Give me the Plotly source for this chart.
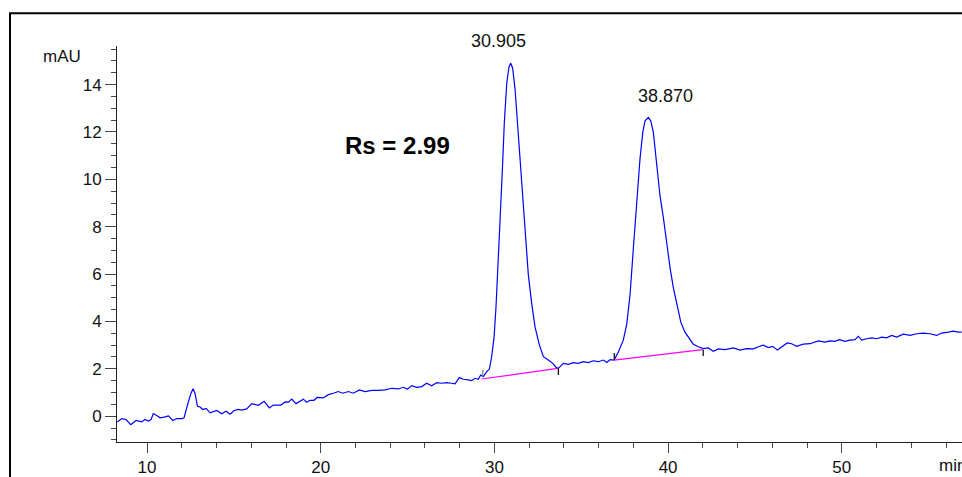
import plotly.graph_objects as go

# chromatogram trace (time in min, signal in mAU)
time_min = [8.29, 8.54, 8.79, 9.06, 9.37, 9.69, 9.88, 10.08, 10.23, 10.36, 10.56, 10.75, 10.98, 11.23,
            11.48, 11.71, 12.0, 12.13, 12.32, 12.52, 12.65, 12.76, 12.90, 13.05, 13.21, 13.40, 13.63,
            14.01, 14.30, 14.55, 14.78, 15.01, 15.26, 15.45, 15.74, 16.03, 16.41, 16.74, 17.04, 17.27,
            17.70, 17.95, 18.14, 18.33, 18.58, 18.81, 19.0, 19.19, 19.38, 19.61, 19.80,
            20.15, 20.44, 20.73, 21.01, 21.27, 21.59, 21.88, 22.22, 22.55, 22.94, 23.32, 23.70, 24.09,
            24.47, 24.76, 24.99, 25.24, 25.53, 25.82, 26.10, 26.39, 26.68, 26.97, 27.25, 27.54, 27.73,
            27.98, 28.21, 28.50, 28.69, 28.88, 29.07, 29.21, 29.36, 29.56, 29.71,
            29.84, 29.98, 30.09, 30.21, 30.32, 30.46, 30.57, 30.71, 30.84, 30.94, 31.05, 31.19, 31.32,
            31.47, 31.63, 31.78, 31.95, 32.15, 32.34, 32.59, 32.82, 33.10, 33.36, 33.55, 33.68,
            33.97, 34.26, 34.54, 34.83, 35.12, 35.41, 35.69, 35.98, 36.27, 36.47, 36.66, 36.89,
            37.14, 37.42, 37.62, 37.81, 38.00, 38.19, 38.38, 38.54, 38.67, 38.86, 39.00, 39.15, 39.34,
            39.53, 39.73, 39.92, 40.11, 40.30, 40.53, 40.73, 40.97, 41.22, 41.45, 41.74, 42.03, 42.31,
            42.60, 42.89, 43.28, 43.76, 44.14, 44.53, 44.91, 45.20, 45.48, 45.77, 46.02, 46.29, 46.54,
            46.86, 47.11, 47.40, 47.78, 48.17, 48.65, 49.03, 49.32, 49.61, 49.86, 50.18, 50.47, 50.76,
            50.95, 51.15, 51.43, 51.72, 52.01, 52.30, 52.58, 52.87, 53.16, 53.54, 53.93, 54.31, 54.69,
            55.08, 55.46, 55.75, 56.13, 56.42, 56.71, 56.90]
signal_mau = [-0.25, -0.10, -0.14, -0.36, -0.18, -0.24, -0.14, -0.21, -0.14, 0.11, 0.03, -0.07, -0.04, 0.01,
              -0.18, -0.10, -0.10, -0.07, 0.45, 0.95, 1.16, 0.97, 0.42, 0.39, 0.28, 0.33, 0.14,
              0.24, 0.10, 0.21, 0.08, 0.24, 0.29, 0.26, 0.31, 0.53, 0.46, 0.63, 0.35, 0.47,
              0.47, 0.60, 0.59, 0.72, 0.53, 0.63, 0.72, 0.59, 0.67, 0.67, 0.79,
              0.77, 0.91, 0.97, 1.04, 0.97, 1.04, 0.97, 1.11, 1.04, 1.09, 1.09, 1.11, 1.18,
              1.15, 1.22, 1.14, 1.29, 1.22, 1.25, 1.39, 1.28, 1.42, 1.39, 1.42, 1.39, 1.37,
              1.63, 1.56, 1.53, 1.50, 1.60, 1.56, 1.74, 1.67, 1.88, 1.99,
              2.51, 3.34, 4.60, 6.27, 8.22, 10.45, 12.40, 14.07, 14.76, 14.90, 14.69, 13.79, 12.40,
              10.73, 9.06, 7.52, 5.99, 4.73, 3.76, 3.00, 2.51, 2.37, 2.23, 2.06, 2.02,
              2.23, 2.19, 2.26, 2.23, 2.30, 2.26, 2.34, 2.30, 2.37, 2.27, 2.39, 2.37,
              2.72, 3.21, 3.90, 5.15, 7.10, 9.19, 10.86, 11.98, 12.47, 12.61, 12.47, 11.98, 10.59,
              9.33, 8.36, 7.24, 6.27, 5.43, 4.60, 3.97, 3.55, 3.27, 3.04, 2.93, 2.85, 2.88,
              2.74, 2.84, 2.81, 2.88, 2.79, 2.85, 2.84, 2.93, 3.00, 2.90, 2.95, 2.79, 2.93,
              3.09, 3.06, 2.95, 3.04, 3.06, 3.18, 3.13, 3.18, 3.16, 3.23, 3.16, 3.21, 3.23,
              3.37, 3.21, 3.27, 3.31, 3.27, 3.34, 3.31, 3.41, 3.34, 3.46, 3.41, 3.48, 3.51,
              3.48, 3.41, 3.51, 3.55, 3.59, 3.55, 3.55]

# integration baselines (two segments)
baseline_t = [29.27, 33.64, None, 36.89, 41.99]
baseline_y = [1.57, 2.02, None, 2.37, 2.81]

# integration event markers
start_mark_t = [29.33, 29.33]
start_mark_y = [1.67, 1.95]
event_mark_t = [33.68, 33.68, None, 36.90, 36.90, None, 42.02, 42.02]
event_mark_y = [2.02, 1.74, None, 2.37, 2.67, None, 2.81, 2.54]

# peak labels
peak_labels = ["30.905", "38.870"]
peak_label_x = [30.22, 39.87]
peak_label_paper_y = [1.0133, 0.875]

x_tickvals = [10, 20, 30, 40, 50]
y_tickvals = [0, 2, 4, 6, 8, 10, 12, 14]

FONT = "Liberation Sans, Arial, sans-serif"

fig = go.Figure()
fig.add_trace(go.Scatter(x=time_min, y=signal_mau, mode="lines",
                         line=dict(color="#0000FF", width=1.2), hoverinfo="skip"))
fig.add_trace(go.Scatter(x=baseline_t, y=baseline_y, mode="lines",
                         line=dict(color="#FF00FF", width=1.2), connectgaps=False, hoverinfo="skip"))
fig.add_trace(go.Scatter(x=start_mark_t, y=start_mark_y, mode="lines",
                         line=dict(color="#777777", width=1.2), hoverinfo="skip"))
fig.add_trace(go.Scatter(x=event_mark_t, y=event_mark_y, mode="lines",
                         line=dict(color="#000000", width=1.2), connectgaps=False, hoverinfo="skip"))

annotations = []
for lab, lx, ly in zip(peak_labels, peak_label_x, peak_label_paper_y):
    annotations.append(dict(x=lx, y=ly, xref="x", yref="paper", text=lab, showarrow=False,
                            xanchor="center", yanchor="middle",
                            font=dict(family=FONT, size=18, color="#111111")))
annotations.append(dict(x=24.42, y=11.43, xref="x", yref="y", text="<b>Rs = 2.99</b>",
                        showarrow=False, xanchor="center", yanchor="middle",
                        font=dict(family=FONT, size=24, color="#000000")))
annotations.append(dict(x=-0.0645, y=0.9725, xref="paper", yref="paper", text="mAU",
                        showarrow=False, xanchor="center", yanchor="middle",
                        font=dict(family=FONT, size=17, color="#111111")))
annotations.append(dict(x=55.46, y=-0.06, xref="x", yref="paper", text="min",
                        showarrow=False, xanchor="left", yanchor="middle",
                        font=dict(family=FONT, size=17, color="#111111")))

fig.update_layout(
    width=962, height=477,
    margin=dict(l=117, r=0, t=46, b=31, pad=0),
    paper_bgcolor="white", plot_bgcolor="white",
    showlegend=False,
    annotations=annotations,
    shapes=[dict(type="rect", xref="paper", yref="paper",
                 x0=-0.1266, x1=1.05, y0=-0.2, y1=1.0825,
                 line=dict(color="#000000", width=2), fillcolor="rgba(0,0,0,0)", layer="above")],
    xaxis=dict(range=[8.27, 56.92], tickmode="array", tickvals=x_tickvals,
               ticks="outside", ticklen=10, tickcolor="#444444", tickwidth=1,
               showline=True, linecolor="#222222", linewidth=1, showgrid=False, zeroline=False,
               tickfont=dict(family=FONT, size=17, color="#111111"),
               minor=dict(dtick=2, tick0=0, ticks="outside", ticklen=5, tickcolor="#444444",
                          showgrid=False)),
    yaxis=dict(range=[-1.09, 15.63], tickmode="array", tickvals=y_tickvals,
               ticks="outside", ticklen=11, tickcolor="#444444", tickwidth=1,
               showline=True, linecolor="#222222", linewidth=1, showgrid=False, zeroline=False,
               tickfont=dict(family=FONT, size=17, color="#111111"),
               minor=dict(dtick=0.5, tick0=0, ticks="outside", ticklen=5, tickcolor="#444444",
                          showgrid=False)),
)

fig.write_html("out.html")
